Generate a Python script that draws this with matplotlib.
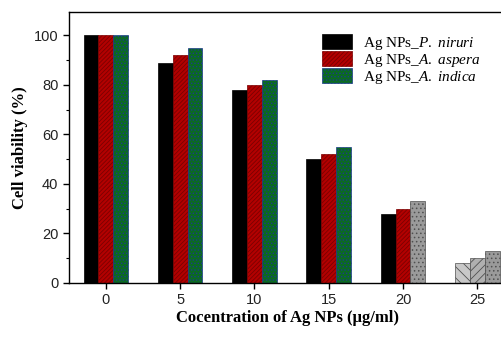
import numpy as np
import matplotlib
matplotlib.use("Agg")
import matplotlib.pyplot as plt
from matplotlib.patches import Patch

plt.rcParams['mathtext.fontset'] = 'custom'
plt.rcParams['mathtext.rm'] = 'Liberation Serif'
plt.rcParams['mathtext.it'] = 'Liberation Serif:italic'
plt.rcParams['hatch.linewidth'] = 0.6

conc = [0, 5, 10, 15, 20, 25]
niruri = [100, 89, 78, 50, 28, 8]
aspera = [100, 92, 80, 52, 30, 10]
indica = [100, 95, 82, 55, 33, 13]
labels = [r'Ag NPs_$\mathit{P.\ niruri}$',
          r'Ag NPs_$\mathit{A.\ aspera}$',
          r'Ag NPs_$\mathit{A.\ indica}$']

fig = plt.figure(figsize=(5.02, 3.58), dpi=100)
ax = fig.add_axes([0.137, 0.21, 0.87, 0.757])

x = np.array(conc, dtype=float)
w = 1.0
series = [niruri, aspera, indica]
faces = ['#000000', '#b30000', '#0b6a22']
edges = ['#000000', '#7a0000', '#1b3a8c']
hatches = [None, '////////', '.....']

for k, vals in enumerate(series):
    for i, v in enumerate(vals):
        fc, ec, h = faces[k], edges[k], hatches[k]
        # faded, greyed bars as in the scanned figure
        if conc[i] == 25 or (conc[i] == 20 and k == 2):
            fc = ['#c8c8c8', '#b0b0b0', '#9a9a9a'][k]
            ec = '#505050'
            h = ['\\\\\\', '////', '....'][k]
        ax.bar(x[i] + (k - 1) * w, v, width=w, color=fc, edgecolor=ec,
               hatch=h, linewidth=0.5)

ax.set_xlim(-2.5, 26.9)
ax.set_ylim(0, 109.5)
ax.set_xticks(conc)
ax.set_yticks([0, 20, 40, 60, 80, 100])
ax.set_yticks(np.arange(10, 110, 20), minor=True)
ax.tick_params(axis='both', which='major', length=4, width=1, labelsize=10.5,
               labelcolor='#222222')
ax.tick_params(axis='y', which='minor', length=2.5, width=0.8)
for lab in ax.get_xticklabels() + ax.get_yticklabels():
    lab.set_fontfamily('Liberation Sans')
for s in ['left', 'bottom', 'top']:
    ax.spines[s].set_linewidth(1.0)
ax.spines['right'].set_visible(False)

ax.set_xlabel('Cocentration of Ag NPs (µg/ml)', fontfamily='Liberation Serif',
              fontweight='bold', fontsize=12, labelpad=2)
ax.set_ylabel('Cell viability (%)', fontfamily='Liberation Serif',
              fontweight='bold', fontsize=12, labelpad=4)

handles = [Patch(facecolor=faces[k], edgecolor=edges[k], hatch=hatches[k],
                 linewidth=0.5) for k in range(3)]
ax.legend(handles, labels, loc='upper left', bbox_to_anchor=(0.565, 0.94),
          frameon=False, prop={'family': 'Liberation Serif', 'size': 11},
          handlelength=2.0, handleheight=1.15, labelspacing=-0.05,
          handletextpad=0.7, borderaxespad=0)

fig.savefig('out.png', dpi=100)
